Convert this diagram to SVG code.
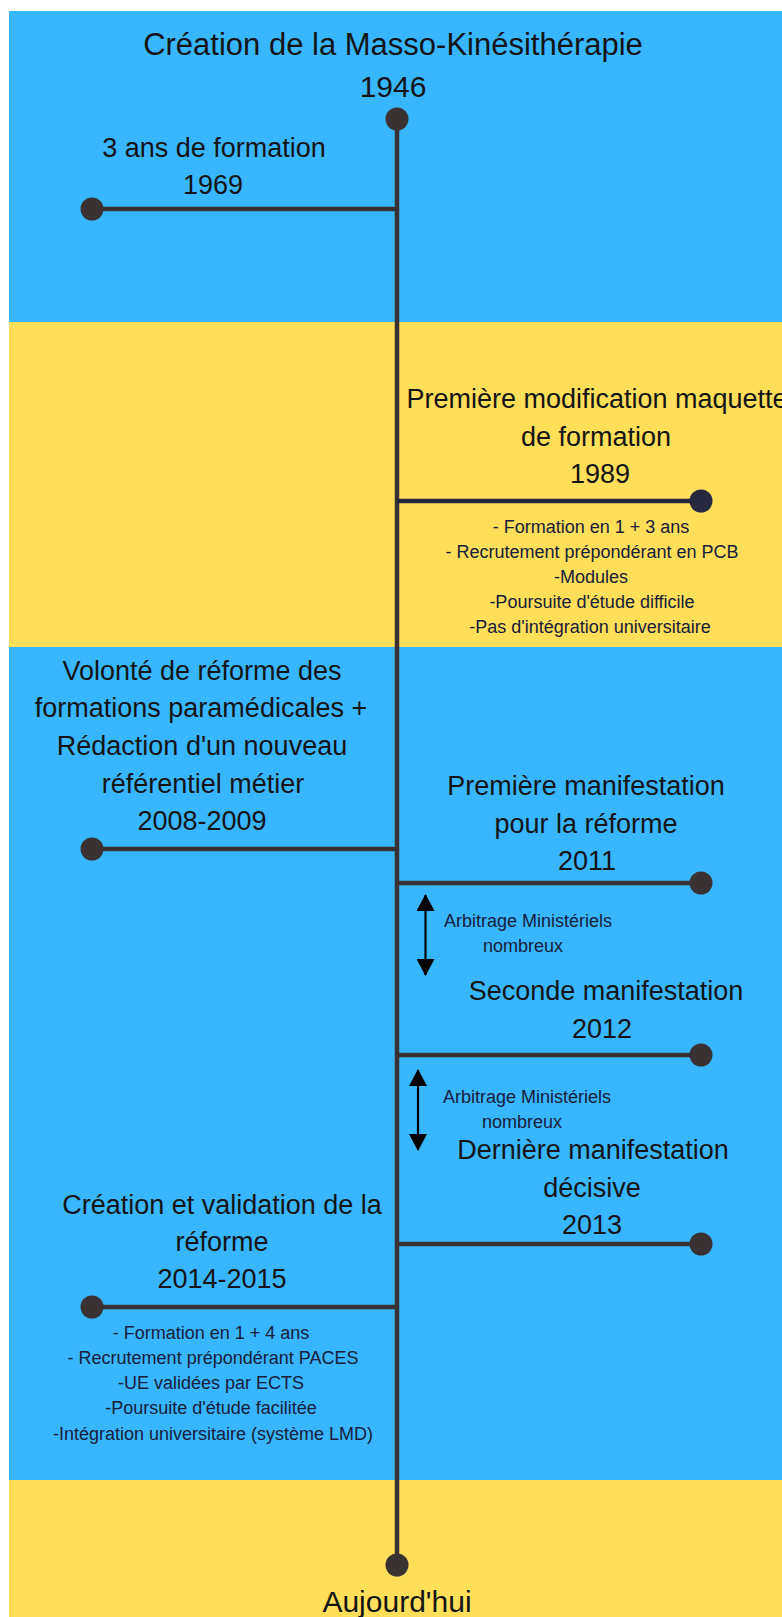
<svg xmlns="http://www.w3.org/2000/svg" width="782" height="1617" viewBox="0 0 782 1617">
<defs>
<style>
.t{font-family:"Liberation Sans",Arial,sans-serif;fill:#141414;text-anchor:middle}
.big{font-size:30px}
.ttl{font-size:31px}
.lbl{font-size:27px}
.sm{font-size:18px;fill:#17203a}
.sml{font-size:18px;fill:#17203a;text-anchor:start}
.ln{stroke:#3a3232;stroke-width:4.5;fill:none}
.dot{fill:#3a3232}
.arr{stroke:#000;stroke-width:2.2;fill:none;marker-start:url(#ah);marker-end:url(#ah)}
</style>
<marker id="ah" markerUnits="userSpaceOnUse" markerWidth="20" markerHeight="18" refX="16" refY="9" orient="auto-start-reverse" viewBox="0 0 20 18">
<path d="M0,0 L17,9 L0,18 Z" fill="#000"/>
</marker>
</defs>
<rect x="0" y="0" width="782" height="1617" fill="#ffffff"/>
<g id="background">
<rect x="9" y="11" width="773" height="311" fill="#38b6ff"/>
<rect x="9" y="322" width="773" height="325" fill="#ffde59"/>
<rect x="9" y="647" width="773" height="833" fill="#38b6ff"/>
<rect x="9" y="1480" width="773" height="137" fill="#ffde59"/>
</g>
<g id="connectors">
<line class="ln" x1="397" y1="119" x2="397" y2="1565"/>
<line class="ln" x1="92" y1="209" x2="397" y2="209"/>
<line class="ln" x1="397" y1="501" x2="701" y2="501" style="stroke:#262840"/>
<line class="ln" x1="92" y1="849" x2="397" y2="849"/>
<line class="ln" x1="397" y1="883" x2="701" y2="883"/>
<line class="ln" x1="397" y1="1055" x2="701" y2="1055"/>
<line class="ln" x1="397" y1="1244" x2="701" y2="1244"/>
<line class="ln" x1="92" y1="1307" x2="397" y2="1307"/>
<line class="arr" x1="425.5" y1="895" x2="425.5" y2="975"/>
<line class="arr" x1="418" y1="1070" x2="418" y2="1150"/>
</g>
<g id="n1946">
<circle class="dot" cx="397" cy="119" r="11.5"/>
<text class="t ttl" x="393" y="55">Création de la Masso-Kinésithérapie</text>
<text class="t big" x="393" y="97">1946</text>
</g>
<g id="n1969">
<circle class="dot" cx="92" cy="209" r="11.5"/>
<text class="t lbl" x="214" y="157">3 ans de formation</text>
<text class="t lbl" x="213" y="194">1969</text>
</g>
<g id="n1989">
<circle class="dot" cx="701" cy="501" r="11.5" style="fill:#262840"/>
<text class="t lbl" x="597" y="408">Première modification maquette</text>
<text class="t lbl" x="596" y="446">de formation</text>
<text class="t lbl" x="600" y="483">1989</text>
<text class="t sm" x="591" y="533">- Formation en 1 + 3 ans</text>
<text class="t sm" x="592" y="558">- Recrutement prépondérant en PCB</text>
<text class="t sm" x="591" y="583">-Modules</text>
<text class="t sm" x="592" y="608">-Poursuite d'étude difficile</text>
<text class="t sm" x="590" y="633">-Pas d'intégration universitaire</text>
</g>
<g id="n2008">
<circle class="dot" cx="92" cy="849" r="11.5"/>
<text class="t lbl" x="202" y="680">Volonté de réforme des</text>
<text class="t lbl" x="201" y="717">formations paramédicales +</text>
<text class="t lbl" x="202" y="755">Rédaction d'un nouveau</text>
<text class="t lbl" x="203" y="793">référentiel métier</text>
<text class="t lbl" x="202" y="830">2008-2009</text>
</g>
<g id="n2011">
<circle class="dot" cx="701" cy="883" r="11.5"/>
<text class="t lbl" x="586" y="795">Première manifestation</text>
<text class="t lbl" x="586" y="833">pour la réforme</text>
<text class="t lbl" x="587" y="870">2011</text>
</g>
<g id="arb1">
<text class="t sml" x="444" y="927">Arbitrage Ministériels</text>
<text class="t sml" x="483" y="952">nombreux</text>
</g>
<g id="n2012">
<circle class="dot" cx="701" cy="1055" r="11.5"/>
<text class="t lbl" x="606" y="1000">Seconde manifestation</text>
<text class="t lbl" x="602" y="1038">2012</text>
</g>
<g id="arb2">
<text class="t sml" x="443" y="1103">Arbitrage Ministériels</text>
<text class="t sml" x="482" y="1128">nombreux</text>
</g>
<g id="n2013">
<circle class="dot" cx="701" cy="1244" r="11.5"/>
<text class="t lbl" x="593" y="1159">Dernière manifestation</text>
<text class="t lbl" x="592" y="1197">décisive</text>
<text class="t lbl" x="592" y="1234">2013</text>
</g>
<g id="n2014">
<circle class="dot" cx="92" cy="1307" r="11.5"/>
<text class="t lbl" x="222" y="1214">Création et validation de la</text>
<text class="t lbl" x="222" y="1251">réforme</text>
<text class="t lbl" x="222" y="1288">2014-2015</text>
<text class="t sm" x="211" y="1339">- Formation en 1 + 4 ans</text>
<text class="t sm" x="213" y="1364">- Recrutement prépondérant PACES</text>
<text class="t sm" x="211" y="1389">-UE validées par ECTS</text>
<text class="t sm" x="211" y="1414">-Poursuite d'étude facilitée</text>
<text class="t sm" x="213" y="1440">-Intégration universitaire (système LMD)</text>
</g>
<g id="today">
<circle class="dot" cx="397" cy="1565" r="11.5"/>
<text class="t big" x="397" y="1612">Aujourd'hui</text>
</g>
</svg>
